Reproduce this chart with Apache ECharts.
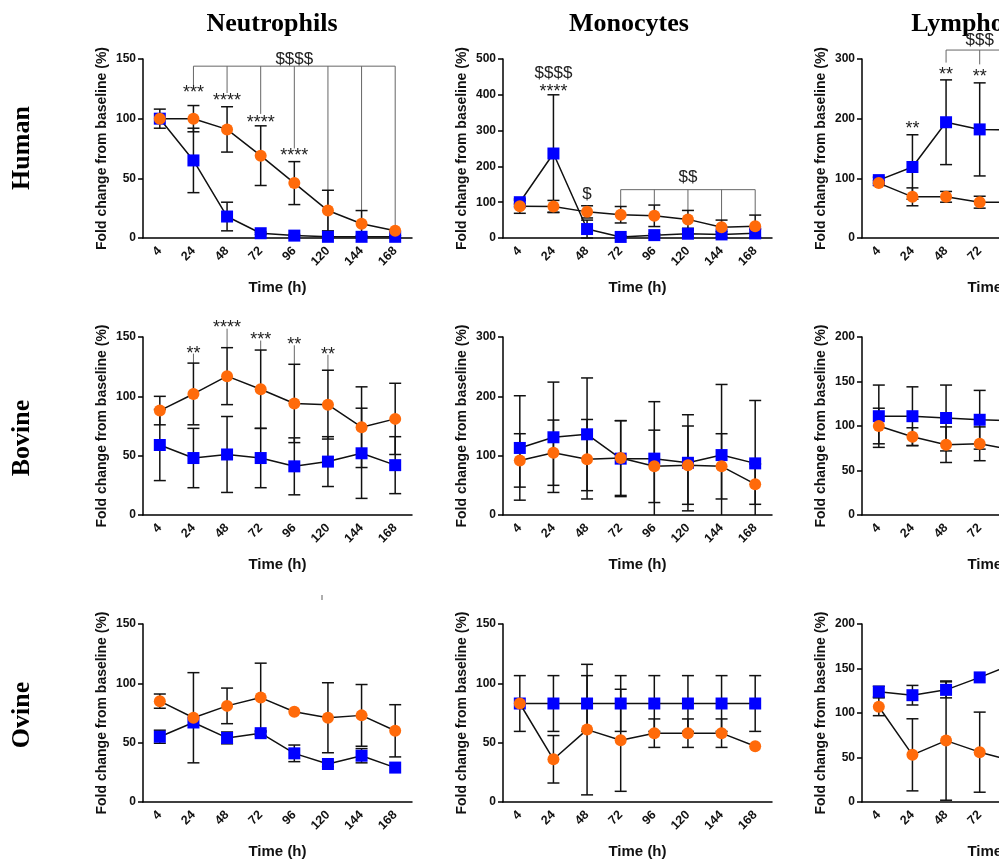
<!DOCTYPE html>
<html>
<head>
<meta charset="utf-8">
<script src="https://cdn.jsdelivr.net/npm/echarts@6/dist/echarts.min.js"></script>
<style>
  html, body { margin: 0; padding: 0; background: #fff; overflow: hidden; }
  /* the figure is wider than the window; its right part is cut off like the reference */
  #chart { width: 1140px; height: 861px; }
</style>
</head>
<body>
<div id="chart"></div>
<script>
const timeLabels = ['4', '24', '48', '72', '96', '120', '144', '168'];
const cellTitles = ['Neutrophils', 'Monocytes', 'Lymphocytes'];
const speciesLabels = ['Human', 'Bovine', 'Ovine'];

// Human
const neutHumanBlue = [100, 65, 18, 4, 2, 1, 1, 1];
const neutHumanBlueSd = [8, 27, 12, 1, 1, 1, 1, 1];
const neutHumanOrange = [100, 100, 91, 69, 46, 23, 12, 6];
const neutHumanOrangeSd = [0, 11, 19, 25, 18, 17, 11, 0];

const monoHumanBlue = [100, 236, 25, 3, 8, 12, 10, 13];
const monoHumanBlueSd = [5, 164, 25, 3, 4, 10, 8, 12];
const monoHumanOrange = [89, 88, 73, 65, 62, 52, 30, 33];
const monoHumanOrangeSd = [20, 17, 17, 23, 30, 25, 20, 31];

const lymphHumanBlue = [97, 119, 194, 182, 181];
const lymphHumanBlueSd = [5, 54, 71, 78];
const lymphHumanOrange = [92, 69, 69, 60, 60];
const lymphHumanOrangeSd = [4, 15, 9, 10];

// Bovine
const neutBovBlue = [59, 48, 51, 48, 41, 45, 52, 42];
const neutBovBlueSd = [30, 25, 32, 25, 24, 21, 38, 24];
const neutBovOrange = [88, 102, 117, 106, 94, 93, 74, 81];
const neutBovOrangeSd = [12, 26, 24, 33, 33, 29, 34, 30];

const monoBovBlue = [113, 131, 136, 95, 95, 88, 101, 87];
const monoBovBlueSd = [88, 93, 95, 64, 96, 81, 119, 106];
const monoBovOrange = [92, 105, 94, 96, 82, 84, 82, 52];
const monoBovOrangeSd = [45, 55, 67, 63, 61, 66, 55, 34];

const lymphBovBlue = [111, 111, 109, 107, 106];
const lymphBovBlueSd = [35, 33, 37, 33];
const lymphBovOrange = [100, 88, 79, 80, 73];
const lymphBovOrangeSd = [20, 10, 20, 19];

// Ovine
const neutOviBlue = [55, 67, 54, 58, 41, 32, 39, 29];
const neutOviBlueSd = [5.5, 0, 5, 2, 7, 2, 6, 0];
const neutOviOrange = [85, 71, 81, 88, 76, 71, 73, 60];
const neutOviOrangeSd = [6, 38, 15, 29, 0, 29.5, 26, 22];

const monoOviBlue = [83, 83, 83, 83, 83, 83, 83, 83];
const monoOviBlueSd = [23.5, 23.5, 23.5, 23.5, 23.5, 23.5, 23.5, 23.5];
const monoOviOrange = [83, 36, 61, 52, 58, 58, 58, 47];
const monoOviOrangeSd = [0, 20, 55, 43, 12, 12, 12, 0];

const lymphOviBlue = [124, 120, 126, 140, 155];
const lymphOviBlueSd = [6, 11, 9, 0];
const lymphOviOrange = [107, 53, 69, 56, 46];
const lymphOviOrangeSd = [10, 40.5, 67, 45];

// y axis ranges [max, step] per panel
const yRanges = [
  [150, 50], [500, 100], [300, 100],
  [150, 50], [300, 100], [200, 50],
  [150, 50], [150, 50], [200, 50]
];

// significance marks: [timeIndex, y, text]
const neutHumanNotes = [[1, 125, '***'], [2, 118, '****'], [3, 100, '****'], [4, 72, '****'], [4, 150, '$$$$']];
const monoHumanNotes = [[1, 461, '$$$$'], [1, 419, '****'], [2, 123, '$'], [5, 170, '$$']];
const lymphHumanNotes = [[1, 190, '**'], [2, 280, '**'], [3, 277, '**'], [3, 332, '$$$']];
const neutBovNotes = [[1, 139, '**'], [2, 160.7, '****'], [3, 150.6, '***'], [4, 146.6, '**'], [5, 138, '**']];

// bracket / connector segments: [x1, y1, x2, y2]
const neutHumanLinks = [[1, 144, 7, 144], [1, 144, 1, 128], [2, 144, 2, 121.5], [3, 144, 3, 104],
  [4, 144, 4, 75], [5, 144, 5, 2], [6, 144, 6, 2], [7, 144, 7, 6]];
const monoHumanLinks = [[3, 135, 7, 135], [3, 135, 3, 89], [4, 135, 4, 93], [5, 135, 5, 77],
  [6, 135, 6, 50], [7, 135, 7, 64]];
const lymphHumanLinks = [[2, 315, 4, 315], [2, 315, 2, 294], [3, 315, 3, 291], [4, 315, 4, 290]];
const neutBovLinks = [[1, 128, 1, 136], [2, 141, 2, 157], [3, 139, 3, 147], [4, 127, 4, 143], [5, 122, 5, 135]];

const panels = [
  [neutHumanBlue, neutHumanBlueSd, neutHumanOrange, neutHumanOrangeSd, neutHumanNotes, neutHumanLinks],
  [monoHumanBlue, monoHumanBlueSd, monoHumanOrange, monoHumanOrangeSd, monoHumanNotes, monoHumanLinks],
  [lymphHumanBlue, lymphHumanBlueSd, lymphHumanOrange, lymphHumanOrangeSd, lymphHumanNotes, lymphHumanLinks],
  [neutBovBlue, neutBovBlueSd, neutBovOrange, neutBovOrangeSd, neutBovNotes, neutBovLinks],
  [monoBovBlue, monoBovBlueSd, monoBovOrange, monoBovOrangeSd, [], []],
  [lymphBovBlue, lymphBovBlueSd, lymphBovOrange, lymphBovOrangeSd, [], []],
  [neutOviBlue, neutOviBlueSd, neutOviOrange, neutOviOrangeSd, [], []],
  [monoOviBlue, monoOviBlueSd, monoOviOrange, monoOviOrangeSd, [], []],
  [lymphOviBlue, lymphOviBlueSd, lymphOviOrange, lymphOviOrangeSd, [], []]
];

const colLeft = [143, 503, 862];
const rowTop = [59, 337, 624];
const plotW = 269;
const plotH = 179;
const sans = '"Liberation Sans", Arial, sans-serif';
const serif = '"Liberation Serif", "Times New Roman", serif';
const blue = '#0000ff';
const orange = '#ff6a0a';

function errorBars(i, means, sds) {
  return {
    type: 'custom', xAxisIndex: i, yAxisIndex: i, z: 2, silent: true,
    data: sds.map((s, k) => [k, means[k], s]),
    encode: { x: 0, y: 1 },
    renderItem(params, api) {
      const x = api.value(0), m = api.value(1), s = api.value(2);
      if (!s) return;
      const style = { stroke: '#111', lineWidth: 1.5 };
      const lo = m - s;
      const hi = api.coord([x, m + s]);
      const low = api.coord([x, Math.max(lo, 0)]);
      const kids = [
        { type: 'line', shape: { x1: hi[0], y1: hi[1], x2: low[0], y2: low[1] }, style },
        { type: 'line', shape: { x1: hi[0] - 6, y1: hi[1], x2: hi[0] + 6, y2: hi[1] }, style }
      ];
      if (lo >= 0) kids.push({ type: 'line', shape: { x1: low[0] - 6, y1: low[1], x2: low[0] + 6, y2: low[1] }, style });
      return { type: 'group', children: kids };
    }
  };
}

function linkSeries(i, links) {
  return {
    type: 'custom', xAxisIndex: i, yAxisIndex: i, z: 1, silent: true,
    data: links,
    encode: { x: [0, 2], y: [1, 3] },
    renderItem(params, api) {
      const a = api.coord([api.value(0), api.value(1)]);
      const b = api.coord([api.value(2), api.value(3)]);
      return { type: 'line', shape: { x1: a[0], y1: a[1], x2: b[0], y2: b[1] }, style: { stroke: '#666', lineWidth: 1 } };
    }
  };
}

function noteSeries(i, notes) {
  return {
    type: 'custom', xAxisIndex: i, yAxisIndex: i, z: 6, silent: true,
    data: notes.map(n => [n[0], n[1]]),
    encode: { x: 0, y: 1 },
    renderItem(params, api) {
      const p = api.coord([api.value(0), api.value(1)]);
      const t = notes[params.dataIndex][2];
      const isStar = t.indexOf('*') >= 0;
      return {
        type: 'text', x: p[0], y: isStar ? p[1] + 4 : p[1],
        style: { text: t, fill: '#222', font: (isStar ? '18px ' : '17px ') + sans, align: 'center', verticalAlign: 'middle' }
      };
    }
  };
}

const grid = [], xAxis = [], yAxis = [], series = [];
panels.forEach((p, i) => {
  const col = i % 3, row = Math.floor(i / 3);
  const [bMean, bSd, oMean, oSd, notes, links] = p;
  grid.push({ left: colLeft[col], top: rowTop[row], width: plotW, height: row === 0 ? plotH : plotH - 1 });
  xAxis.push({
    gridIndex: i, type: 'category', data: timeLabels, boundaryGap: true,
    axisLine: { lineStyle: { color: '#000', width: 1.5 } },
    axisTick: { alignWithLabel: true, length: 5, lineStyle: { color: '#000', width: 1.5 } },
    axisLabel: { interval: 0, rotate: 45, margin: 11, color: '#111', fontWeight: 'bold', fontSize: 12.5, fontFamily: sans },
    name: 'Time (h)', nameLocation: 'middle', nameGap: 42,
    nameTextStyle: { color: '#111', fontWeight: 'bold', fontSize: 15, fontFamily: sans }
  });
  yAxis.push({
    gridIndex: i, type: 'value', min: 0, max: yRanges[i][0], interval: yRanges[i][1],
    axisLine: { show: true, lineStyle: { color: '#000', width: 1.5 } },
    axisTick: { show: true, length: 5, lineStyle: { color: '#000', width: 1.5 } },
    splitLine: { show: false },
    axisLabel: { margin: 7, color: '#111', fontWeight: 'bold', fontSize: 12, fontFamily: sans },
    name: 'Fold change from baseline (%)', nameLocation: 'middle', nameGap: 34,
    nameTextStyle: { color: '#111', fontWeight: 'bold', fontSize: 14, fontFamily: sans }
  });
  series.push(linkSeries(i, links));
  series.push(errorBars(i, bMean, bSd));
  series.push(errorBars(i, oMean, oSd));
  series.push({
    type: 'line', xAxisIndex: i, yAxisIndex: i, z: 3, data: bMean,
    symbol: 'rect', symbolSize: 12, showAllSymbol: true,
    itemStyle: { color: blue }, lineStyle: { color: '#111', width: 1.5 }
  });
  series.push({
    type: 'line', xAxisIndex: i, yAxisIndex: i, z: 4, data: oMean,
    symbol: 'circle', symbolSize: 12, showAllSymbol: true,
    itemStyle: { color: orange }, lineStyle: { color: '#111', width: 1.5 }
  });
  series.push(noteSeries(i, notes));
});

const titleX = [272, 629, 985];
const rowY = [148, 438, 715];
const graphic = [];
cellTitles.forEach((t, k) => graphic.push({
  type: 'text', x: titleX[k], y: 24,
  style: { text: t, font: 'bold 26px ' + serif, fill: '#000', align: 'center', verticalAlign: 'middle' }
}));
speciesLabels.forEach((t, k) => graphic.push({
  type: 'text', x: 22, y: rowY[k], rotation: Math.PI / 2,
  style: { text: t, font: 'bold 26px ' + serif, fill: '#000', align: 'center', verticalAlign: 'middle' }
}));
graphic.push({ type: 'text', x: 322, y: 598, style: { text: 'ı', font: '9px ' + sans, fill: '#333', align: 'center', verticalAlign: 'middle' } });

const chart = echarts.init(document.getElementById('chart'));
chart.setOption({
  animation: false,
  backgroundColor: '#fff',
  grid, xAxis, yAxis, series, graphic
});
</script>
</body>
</html>
